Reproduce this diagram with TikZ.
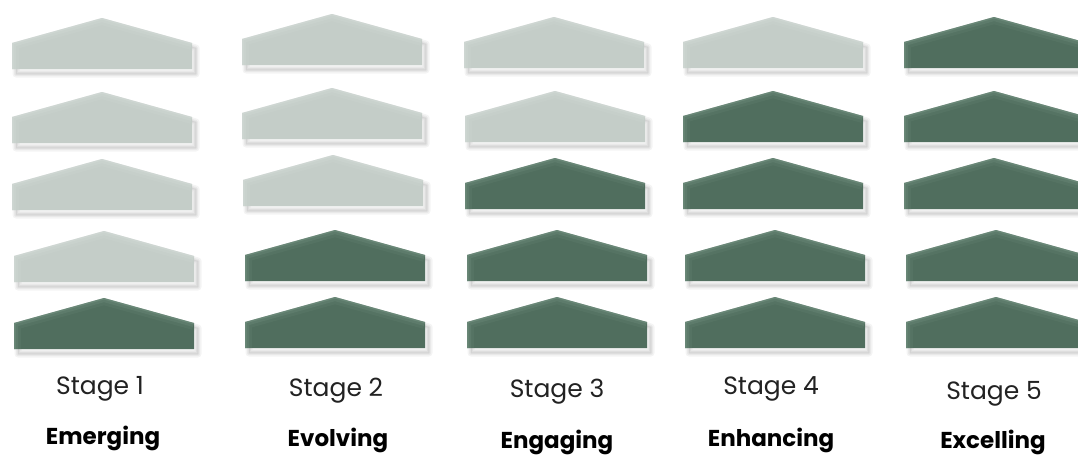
\documentclass[tikz,border=0pt]{standalone}
\usepackage{fontspec}
\setmainfont{Poppins}

\definecolor{roofpale}{HTML}{C4CDC8}
\definecolor{roofpaleedge}{HTML}{DCE2DF}
\definecolor{roofdark}{HTML}{506E5E}
\definecolor{roofdarkedge}{HTML}{86A493}
\definecolor{labelgray}{HTML}{222222}

\tikzset{
  stagelabel/.style={anchor=base, font=\fontsize{25}{28}\selectfont, text=labelgray, inner sep=0pt},
  levellabel/.style={anchor=base, font=\bfseries\fontsize{23}{26}\selectfont, text=black, inner sep=0pt},
  shadowsoft/.style={black, opacity=.045, line join=round},
}

% outline of one roof block from its left x and peak y
\newcommand{\roofpath}[2]{(#1,#2+25) -- (#1+90,#2) -- (#1+180,#2+25) -- (#1+180,#2+51) -- (#1,#2+51) -- cycle}
\newcommand{\roofedge}[2]{(#1,#2+51) -- (#1,#2+25) -- (#1+90,#2) -- (#1+180,#2+25)}

% one roof block: left x, peak y, body colour, edge-glow colour
\newcommand{\roofblock}[4]{%
  \begin{scope}[shift={(4,5)}]
    \fill[shadowsoft] \roofpath{#1}{#2};
    \draw[shadowsoft, line width=7pt] \roofpath{#1}{#2};
    \draw[shadowsoft, line width=4pt] \roofpath{#1}{#2};
    \draw[shadowsoft, line width=1.5pt] \roofpath{#1}{#2};
  \end{scope}
  \begin{scope}
    \fill[#3] \roofpath{#1}{#2};
    \clip \roofpath{#1}{#2};
    \draw[#4, line width=14pt, opacity=.10, line join=round] \roofedge{#1}{#2};
    \draw[#4, line width=8pt, opacity=.18, line join=round] \roofedge{#1}{#2};
    \draw[#4, line width=3pt, opacity=.30, line join=round] \roofedge{#1}{#2};
  \end{scope}}
\newcommand{\palerf}[2]{\roofblock{#1}{#2}{roofpale}{roofpaleedge}}
\newcommand{\darkrf}[2]{\roofblock{#1}{#2}{roofdark}{roofdarkedge}}

\begin{document}
\begin{tikzpicture}[x=1pt, y=-1pt]
  \useasboundingbox[fill=white] (0,0) rectangle (1078,455);
  \clip (0,0) rectangle (1078,455);

  % Stage 1
  \palerf{12}{18}  \palerf{12}{92}  \palerf{12}{159} \palerf{14}{231} \darkrf{14}{298}
  % Stage 2
  \palerf{242}{14} \palerf{242}{88} \palerf{243}{155} \darkrf{245}{230} \darkrf{245}{297}
  % Stage 3
  \palerf{464}{17} \palerf{465}{91} \darkrf{465}{158} \darkrf{467}{230} \darkrf{467}{297}
  % Stage 4
  \palerf{683}{17} \darkrf{683}{91} \darkrf{683}{158} \darkrf{685}{230} \darkrf{685}{297}
  % Stage 5
  \darkrf{904}{17} \darkrf{904}{91} \darkrf{904}{158} \darkrf{906}{230} \darkrf{906}{297}

  % stage captions
  \node[stagelabel] (s1) at (100,394) {Stage 1};
  \node[stagelabel] (s2) at (336,396) {Stage 2};
  \node[stagelabel] (s3) at (557,397) {Stage 3};
  \node[stagelabel] (s4) at (771,394) {Stage 4};
  \node[stagelabel] (s5) at (994,399) {Stage 5};

  % level names
  \node[levellabel] (l1) at (103,444) {Emerging};
  \node[levellabel] (l2) at (338,446) {Evolving};
  \node[levellabel] (l3) at (557,448) {Engaging};
  \node[levellabel] (l4) at (771,446) {Enhancing};
  \node[levellabel] (l5) at (993,448) {Excelling};
\end{tikzpicture}
\end{document}
